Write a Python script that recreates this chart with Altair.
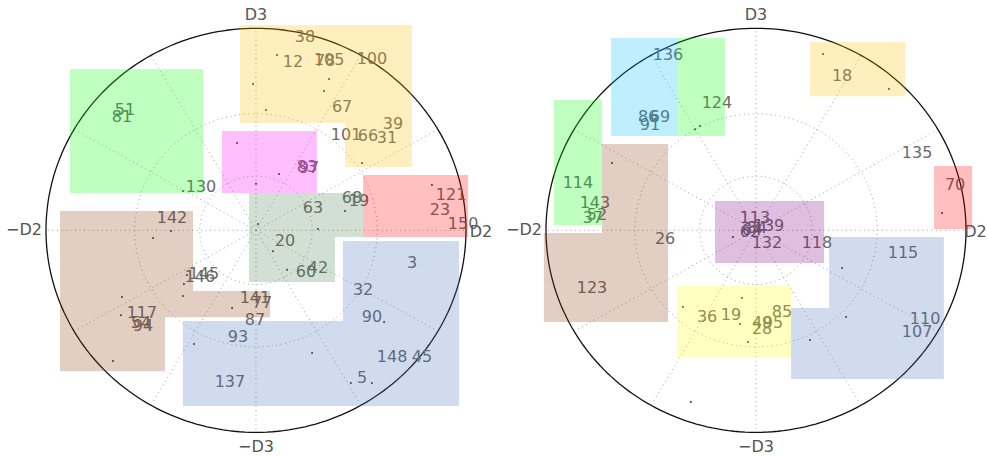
import altair as alt
import pandas as pd
import numpy as np

# ---------------- LEFT PANEL ----------------
L_LAB = ["38", "12", "78", "105", "100", "67", "39", "101", "66", "31", "83", "97",
         "130", "51", "81", "63", "68", "19", "121", "23", "150", "142", "20", "60",
         "42", "146", "145", "141", "77", "87", "93", "137", "117", "94", "54", "3",
         "32", "90", "148", "45", "5"]
L_LAB_X = [0.233, 0.176, 0.329, 0.348, 0.552, 0.410, 0.652, 0.429, 0.533, 0.624, 0.243, 0.252,
           -0.262, -0.624, -0.638, 0.271, 0.457, 0.490, 0.929, 0.876, 0.986, -0.400, 0.138, 0.238,
           0.295, -0.267, -0.248, -0.005, 0.029, -0.005, -0.086, -0.124, -0.543, -0.538, -0.548, 0.743,
           0.510, 0.552, 0.648, 0.790, 0.505]
L_LAB_Y = [0.957, 0.833, 0.838, 0.843, 0.848, 0.610, 0.526, 0.472, 0.467, 0.457, 0.313, 0.308,
           0.214, 0.595, 0.561, 0.110, 0.160, 0.145, 0.175, 0.100, 0.032, 0.061, -0.053, -0.206,
           -0.187, -0.231, -0.217, -0.335, -0.360, -0.444, -0.528, -0.751, -0.409, -0.474, -0.459, -0.162,
           -0.296, -0.429, -0.627, -0.627, -0.731]
L_DOT_X = [0.100, -0.014, 0.348, 0.324, 0.048, -0.090, 0.505, 0.110, 0.000, -0.348, -0.662, 0.838,
           0.529, 0.424, 0.295, 0.010, -0.405, -0.490, 0.081, 0.148, -0.329, -0.343, -0.348, -0.638,
           -0.643, -0.114, -0.295, -0.681, 0.267, 0.610, 0.552, 0.452]
L_DOT_Y = [0.868, 0.724, 0.749, 0.689, 0.595, 0.432, 0.333, 0.279, 0.230, 0.195, 0.571, 0.224,
           0.165, 0.096, 0.006, 0.031, -0.003, -0.038, -0.103, -0.195, -0.221, -0.266, -0.325, -0.330,
           -0.420, -0.385, -0.563, -0.647, -0.607, -0.454, -0.756, -0.756]
L_BOX_X1 = [-0.886, -0.076, 0.424, -0.162, -0.033, -0.033, 0.510, 0.414, -0.348, -0.933, -0.933, -0.300]
L_BOX_X2 = [-0.252, 0.743, 0.743, 0.290, 0.510, 0.376, 1.010, 0.967, 0.414, -0.300, -0.433, 0.067]
L_BOX_Y1 = [0.799, 1.016, 0.531, 0.492, 0.185, -0.033, 0.274, -0.053, -0.449, 0.096, -0.430, -0.300]
L_BOX_Y2 = [0.185, 0.531, 0.313, 0.185, -0.033, -0.256, -0.033, -0.870, -0.870, -0.430, -0.697, -0.430]
L_BOX_COL = ["#00ff00", "#ffc000", "#ffc000", "#ff00ff", "#4b8353", "#4b8353", "#ff0000",
             "#4373bb", "#4373bb", "#8b3a10", "#8b3a10", "#8b3a10"]

# ---------------- RIGHT PANEL ----------------
R_LAB = ["136", "124", "86", "69", "91", "114", "143", "52", "37", "26", "123", "36", "19",
         "85", "49", "95", "28", "118", "132", "113", "84", "64", "62", "139", "115", "110",
         "107", "135", "70", "18"]
R_LAB_X = [-0.419, -0.186, -0.514, -0.457, -0.505, -0.848, -0.767, -0.757, -0.776, -0.433, -0.781, -0.233, -0.119,
           0.124, 0.029, 0.081, 0.029, 0.290, 0.052, -0.005, 0.005, -0.019, -0.029, 0.062, 0.700, 0.805,
           0.767, 0.767, 0.948, 0.410]
R_LAB_Y = [0.868, 0.630, 0.561, 0.561, 0.521, 0.234, 0.135, 0.076, 0.061, -0.043, -0.286, -0.429, -0.419,
           -0.404, -0.459, -0.459, -0.489, -0.063, -0.063, 0.061, 0.011, 0.001, -0.008, 0.021, -0.112, -0.439,
           -0.504, 0.383, 0.225, 0.764]
R_DOT_X = [0.319, 0.633, 0.886, -0.686, -0.267, -0.290, -0.552, -0.348, -0.067, -0.038, -0.310, -0.076,
           0.410, 0.429, 0.257, -0.110]
R_DOT_Y = [0.873, 0.699, 0.086, 0.333, 0.516, 0.500, 0.546, -0.380, -0.335, -0.553, -0.850, -0.464,
           -0.187, -0.429, -0.543, -0.033]
R_BOX_X1 = [-0.690, -0.376, -0.962, -0.733, -1.010, 0.257, 0.848, -0.195, -0.376, 0.348, 0.167]
R_BOX_X2 = [-0.376, -0.148, -0.733, -0.419, -0.419, 0.710, 1.029, 0.324, 0.167, 0.895, 0.348]
R_BOX_Y1 = [0.952, 0.952, 0.645, 0.427, -0.013, 0.932, 0.318, 0.145, -0.276, -0.033, -0.385]
R_BOX_Y2 = [0.467, 0.467, 0.026, -0.013, -0.454, 0.664, 0.006, -0.162, -0.627, -0.736, -0.736]
R_BOX_COL = ["#00bfff", "#00ff00", "#00ff00", "#8b3a10", "#8b3a10", "#ffc000", "#ff0000",
             "#800080", "#ffff00", "#4373bb", "#4373bb"]

# ---------------- GRID / FRAME ----------------
SPOKE_DEG = list(range(0, 360, 30))
RING_R = [0.268, 0.577]
AX_TXT = ["D3", "\u2212D3", "\u2212D2", "D2"]

FONT = "DejaVu Sans"
TXT_COL = "#6a6a6a"


def grid_frames():
    sp = pd.DataFrame({
        "x": 0.0, "y": 0.0,
        "x2": [np.cos(np.radians(a)) for a in SPOKE_DEG],
        "y2": [np.sin(np.radians(a)) for a in SPOKE_DEG],
    })
    t = np.linspace(0, 2 * np.pi, 241)
    rings = []
    for k, r in enumerate(RING_R):
        rings.append(pd.DataFrame({"ring": k, "i": np.arange(len(t)),
                                   "x": r * np.cos(t), "y": r * np.sin(t)}))
    rings = pd.concat(rings)
    circ = pd.DataFrame({"i": np.arange(len(t)), "x": np.cos(t), "y": np.sin(t)})
    return sp, rings, circ


def panel(lab, lx, ly, dx, dy, bx1, bx2, by1, by2, bcol, xdom, ydom, w, h, axx, axy):
    X = alt.X("x:Q", scale=alt.Scale(domain=xdom, nice=False, zero=False), axis=None)
    Y = alt.Y("y:Q", scale=alt.Scale(domain=ydom, nice=False, zero=False), axis=None)
    sp, rings, circ = grid_frames()

    spokes = alt.Chart(sp).mark_rule(color="#a0a0a0", strokeDash=[1, 3.5], strokeWidth=1).encode(
        x=X, y=Y, x2="x2:Q", y2="y2:Q")
    ring_l = alt.Chart(rings).mark_line(color="#a0a0a0", strokeDash=[1, 3.5], strokeWidth=1).encode(
        x=X, y=Y, detail="ring:N", order="i:Q")
    circle = alt.Chart(circ).mark_line(color="#111111", strokeWidth=1.3).encode(
        x=X, y=Y, order="i:Q")
    dots = alt.Chart(pd.DataFrame({"x": dx, "y": dy})).mark_circle(
        size=4, color="#333333", opacity=1).encode(x=X, y=Y)
    texts = alt.Chart(pd.DataFrame({"x": lx, "y": ly, "t": lab})).mark_text(
        font=FONT, fontSize=16, color=TXT_COL, align="center",
        baseline="middle").encode(x=X, y=Y, text="t:N")
    axdf = pd.DataFrame({"x": axx, "y": axy, "t": AX_TXT})
    axl = alt.Chart(axdf).mark_text(font=FONT, fontSize=16, color="#555555",
                                    align="center", baseline="middle").encode(x=X, y=Y, text="t:N")
    boxes = alt.Chart(pd.DataFrame({"x": bx1, "x2": bx2, "y": by1, "y2": by2, "c": bcol})).mark_rect(
        opacity=0.25, strokeWidth=0).encode(
        x=X, x2="x2:Q", y=Y, y2="y2:Q", color=alt.Color("c:N", scale=None))
    return alt.layer(spokes, ring_l, circle, dots, texts, axl, boxes).properties(width=w, height=h)


YDOM = [-1.122, 1.140]
left = panel(L_LAB, L_LAB_X, L_LAB_Y, L_DOT_X, L_DOT_Y,
             L_BOX_X1, L_BOX_X2, L_BOX_Y1, L_BOX_Y2, L_BOX_COL,
             [-1.219, 1.162], YDOM, 500, 457,
             [0.0, 0.0, -1.105, 1.071], [1.066, -1.073, 0.0, -0.008])
right = panel(R_LAB, R_LAB_X, R_LAB_Y, R_DOT_X, R_DOT_Y,
              R_BOX_X1, R_BOX_X2, R_BOX_Y1, R_BOX_Y2, R_BOX_COL,
              [-1.219, 1.100], YDOM, 487, 457,
              [0.0, 0.0, -1.105, 1.045], [1.066, -1.073, 0.0, -0.008])

chart = alt.hconcat(left, right, spacing=0, bounds="flush").properties(padding=0).configure_view(
    strokeWidth=0)

chart.save("out.html", embed_options={"renderer": "svg", "actions": False})
